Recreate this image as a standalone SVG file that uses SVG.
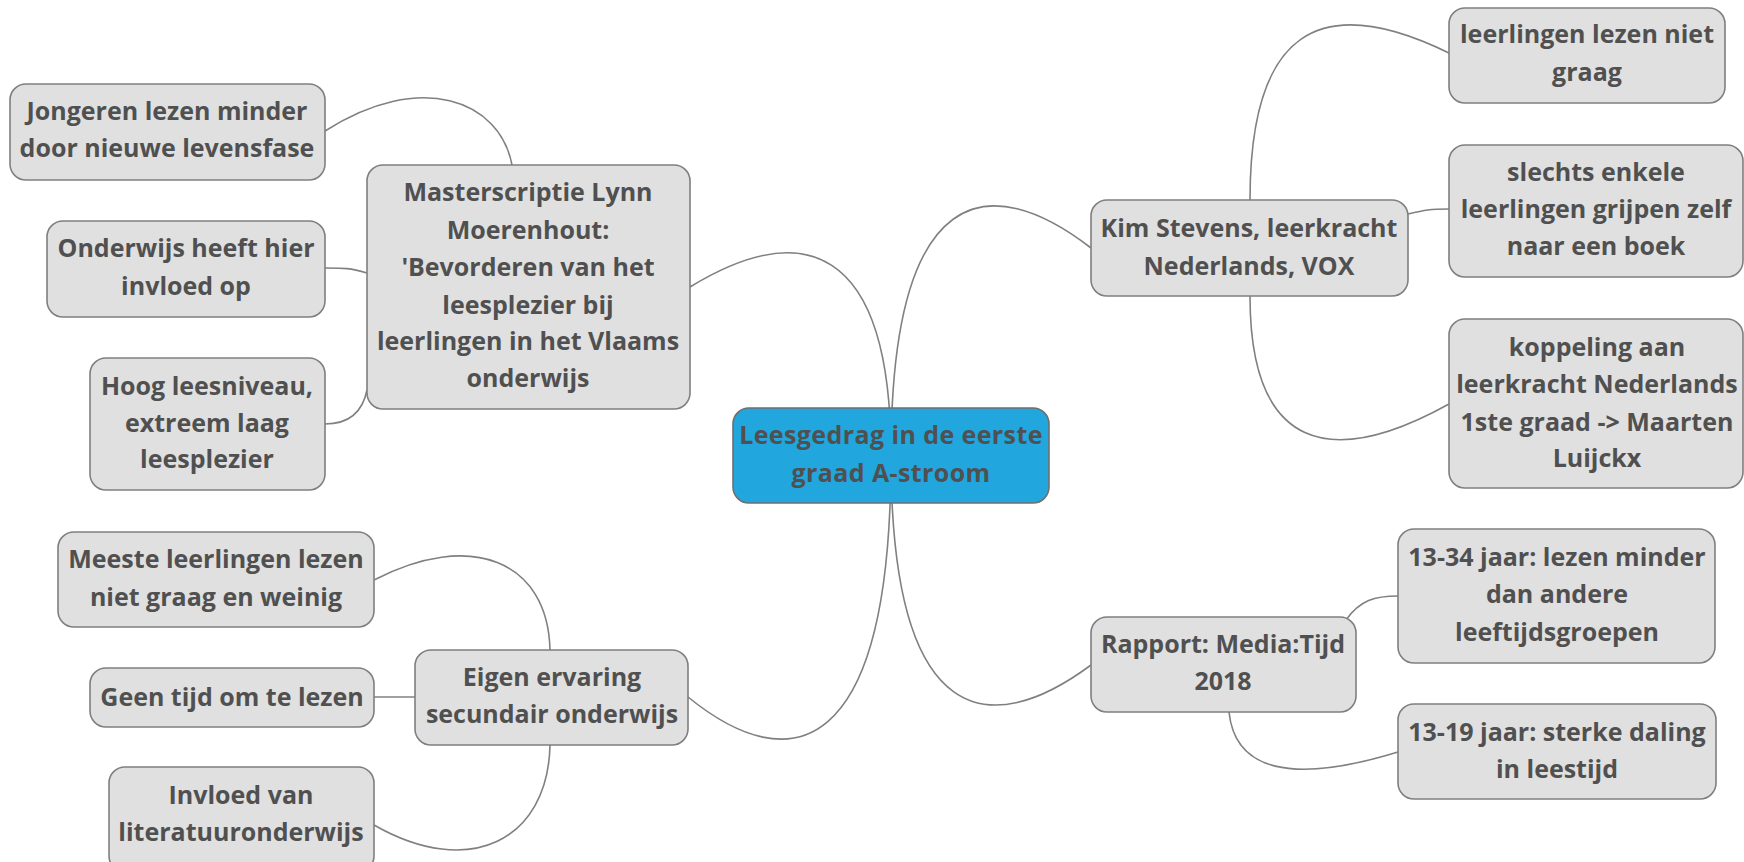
<svg xmlns="http://www.w3.org/2000/svg" width="1744" height="862" viewBox="0 0 1744 862">
<style>
.n rect{fill:#e0e0e0;stroke:#7f7f7f;stroke-width:1.6}
.c rect{fill:#21a6de;stroke:#6f6f6f;stroke-width:1.6}
text{font-family:"Open Sans","Noto Sans","Liberation Sans",sans-serif;font-weight:700;font-size:25px;fill:#505050;text-anchor:middle}
.c text{font-size:25px;letter-spacing:0.4px}
#connectors path{fill:none;stroke:#808080;stroke-width:1.6}
</style>
<rect width="1744" height="862" fill="#ffffff"/>
<g id="connectors">
<path d="M891 456 C891 180 990 170 1091 248"/>
<path d="M891 456 C891 240 800 220 690 287"/>
<path d="M891 456 C891 760 790 780 688 697"/>
<path d="M891 456 C891 730 990 740 1091 665"/>
<path d="M512 165 C500 100 420 70 325 131"/>
<path d="M367 273 C350 268 345 268 325 268"/>
<path d="M367 390 C362 415 345 424 325 424"/>
<path d="M550 650 C548 560 470 530 374 580"/>
<path d="M415 697 L374 697"/>
<path d="M550 745 C548 840 470 880 374 825"/>
<path d="M1250 200 C1250 30 1320 -10 1449 53"/>
<path d="M1408 214 C1425 210 1430 209 1449 209"/>
<path d="M1250 296 C1250 450 1330 470 1449 404"/>
<path d="M1346 620 C1360 600 1375 596 1398 596"/>
<path d="M1229 712 C1235 770 1290 785 1398 752"/>
</g>
<g id="central" class="c"><rect x="733" y="408" width="316" height="95" rx="16"/>
<text x="891" y="444">Leesgedrag in de eerste</text><text x="891" y="482">graad A-stroom</text></g>
<g id="masterscriptie" class="n"><rect x="367" y="165" width="323" height="244" rx="16"/>
<text x="528" y="201">Masterscriptie Lynn</text><text x="528" y="239">Moerenhout:</text><text x="528" y="276">'Bevorderen van het</text><text x="528" y="314">leesplezier bij</text><text x="528" y="350">leerlingen in het Vlaams</text><text x="528" y="387">onderwijs</text></g>
<g id="jongeren" class="n"><rect x="10" y="84" width="315" height="96" rx="16"/>
<text x="167" y="120">Jongeren lezen minder</text><text x="167" y="157">door nieuwe levensfase</text></g>
<g id="onderwijs" class="n"><rect x="47" y="221" width="278" height="96" rx="16"/>
<text x="186" y="257">Onderwijs heeft hier</text><text x="186" y="295">invloed op</text></g>
<g id="hoog" class="n"><rect x="90" y="358" width="235" height="132" rx="16"/>
<text x="207" y="395">Hoog leesniveau,</text><text x="207" y="432">extreem laag</text><text x="207" y="468">leesplezier</text></g>
<g id="eigen" class="n"><rect x="415" y="650" width="273" height="95" rx="16"/>
<text x="552" y="686">Eigen ervaring</text><text x="552" y="723">secundair onderwijs</text></g>
<g id="meeste" class="n"><rect x="58" y="532" width="316" height="95" rx="16"/>
<text x="216" y="568">Meeste leerlingen lezen</text><text x="216" y="606">niet graag en weinig</text></g>
<g id="geen" class="n"><rect x="90" y="668" width="284" height="59" rx="16"/>
<text x="232" y="706">Geen tijd om te lezen</text></g>
<g id="invloed" class="n"><rect x="109" y="767" width="265" height="105" rx="16"/>
<text x="241" y="804">Invloed van</text><text x="241" y="841">literatuuronderwijs</text></g>
<g id="kim" class="n"><rect x="1091" y="200" width="317" height="96" rx="16"/>
<text x="1249" y="237">Kim Stevens, leerkracht</text><text x="1249" y="275">Nederlands, VOX</text></g>
<g id="niet-graag" class="n"><rect x="1449" y="8" width="276" height="95" rx="16"/>
<text x="1587" y="43">leerlingen lezen niet</text><text x="1587" y="81">graag</text></g>
<g id="slechts" class="n"><rect x="1449" y="145" width="294" height="132" rx="16"/>
<text x="1596" y="181">slechts enkele</text><text x="1596" y="218">leerlingen grijpen zelf</text><text x="1596" y="255">naar een boek</text></g>
<g id="koppeling" class="n"><rect x="1449" y="319" width="294" height="169" rx="16"/>
<text x="1597" y="356">koppeling aan</text><text x="1597" y="393">leerkracht Nederlands</text><text x="1597" y="431">1ste graad -&gt; Maarten</text><text x="1597" y="467">Luijckx</text></g>
<g id="rapport" class="n"><rect x="1091" y="617" width="265" height="95" rx="16"/>
<text x="1223" y="653">Rapport: Media:Tijd</text><text x="1223" y="690">2018</text></g>
<g id="n1334" class="n"><rect x="1398" y="529" width="317" height="134" rx="16"/>
<text x="1557" y="566">13-34 jaar: lezen minder</text><text x="1557" y="603">dan andere</text><text x="1557" y="641">leeftijdsgroepen</text></g>
<g id="n1319" class="n"><rect x="1398" y="704" width="318" height="95" rx="16"/>
<text x="1557" y="741">13-19 jaar: sterke daling</text><text x="1557" y="778">in leestijd</text></g>
</svg>
